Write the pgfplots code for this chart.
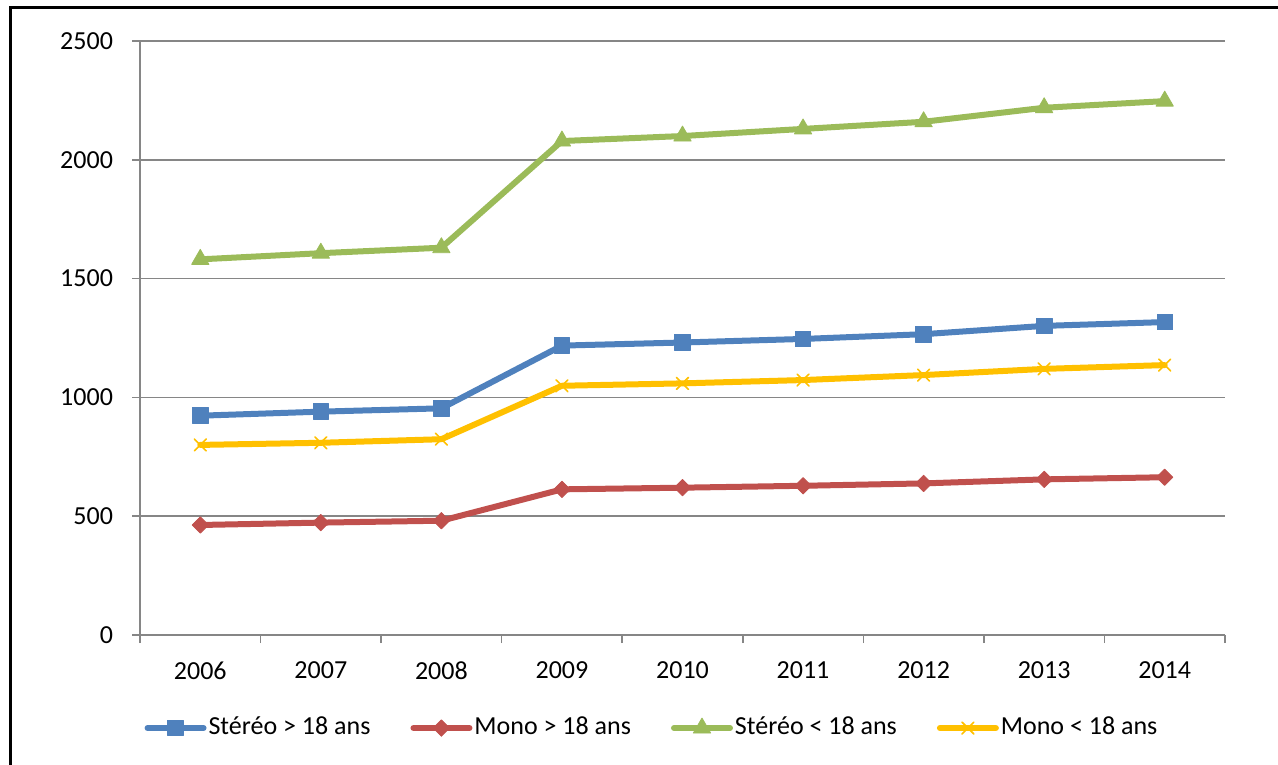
\documentclass[border=0pt]{standalone}
\usepackage{fontspec}
\setmainfont{Carlito}
\usepackage{pgfplots}
\pgfplotsset{compat=1.18}

\definecolor{serieBleu}{HTML}{4F81BD}
\definecolor{serieRouge}{HTML}{C0504D}
\definecolor{serieVert}{HTML}{9BBB59}
\definecolor{serieJaune}{HTML}{FFC000}
\definecolor{grille}{HTML}{868686}

\begin{document}
\fontsize{13bp}{15.6bp}\selectfont
\begin{tikzpicture}
\useasboundingbox (0,0) rectangle (639bp,382.5bp);
% cadre du graphique
\draw[line width=1.5bp] (5.25bp,-10bp) -- (5.25bp,378.75bp) -- (660bp,378.75bp);
\begin{axis}[
  at={(70bp,65bp)}, anchor=south west,
  scale only axis, width=542.5bp, height=297bp,
  xmin=-0.5, xmax=8.5, ymin=0, ymax=2500,
  xtick={-0.5,0.5,...,8.5},
  x tick label as interval,
  xticklabels={2006,2007,2008,2009,2010,2011,2012,2013,2014},
  ytick={0,500,...,2500},
  axis lines=left,
  axis line style={-, line width=0.75bp, grille},
  ymajorgrids,
  grid style={line width=0.75bp, grille},
  tick style={line width=0.75bp, grille},
  tick align=outside,
  major tick length=4bp,
  /pgf/number format/assume math mode=true,
  /pgf/number format/1000 sep={},
  tick label style={font=\fontsize{13bp}{15.6bp}\selectfont, black},
  yticklabel style={xshift=-5bp},
  xticklabel style={yshift=-5bp},
  legend columns=4,
  legend style={
    at={(0.4719,-0.1566)}, anchor=center,
    draw=none, fill=none,
    font=\fontsize{13bp}{15.6bp}\selectfont,
    nodes={inner xsep=1bp, inner ysep=1bp},
    /tikz/every even column/.append style={column sep=19bp},
  },
  legend cell align=left,
  legend image code/.code={
    \draw[mark repeat=2, mark phase=2, #1]
      plot coordinates {(0bp,0bp) (14bp,0bp) (28bp,0bp)};
  },
  every axis plot/.append style={line width=3bp, line cap=round, line join=round},
]
\addplot[serieBleu, mark=square*, mark size=3.9bp, mark options={line width=0.4bp}] coordinates {
  (0,923) (1,940) (2,954) (3,1218) (4,1231) (5,1246) (6,1266) (7,1301) (8,1317)};
\addlegendentry{Stéréo > 18 ans}
\addplot[serieRouge, mark=diamond*, mark size=4.1bp, mark options={xscale=1.33, line width=0.4bp}] coordinates {
  (0,463) (1,473) (2,481) (3,613) (4,620) (5,628) (6,638) (7,655) (8,664)};
\addlegendentry{Mono > 18 ans}
\addplot[serieVert, mark=triangle*, mark size=5bp, mark options={line width=0.4bp}] coordinates {
  (0,1581) (1,1607) (2,1630) (3,2079) (4,2100) (5,2130) (6,2160) (7,2219) (8,2247)};
\addlegendentry{Stéréo < 18 ans}
\addplot[serieJaune, mark=x, mark size=4.2bp, mark options={line width=0.8bp}] coordinates {
  (0,800) (1,809) (2,824) (3,1049) (4,1059) (5,1073) (6,1094) (7,1120) (8,1136)};
\addlegendentry{Mono < 18 ans}
\end{axis}
\end{tikzpicture}
\end{document}
